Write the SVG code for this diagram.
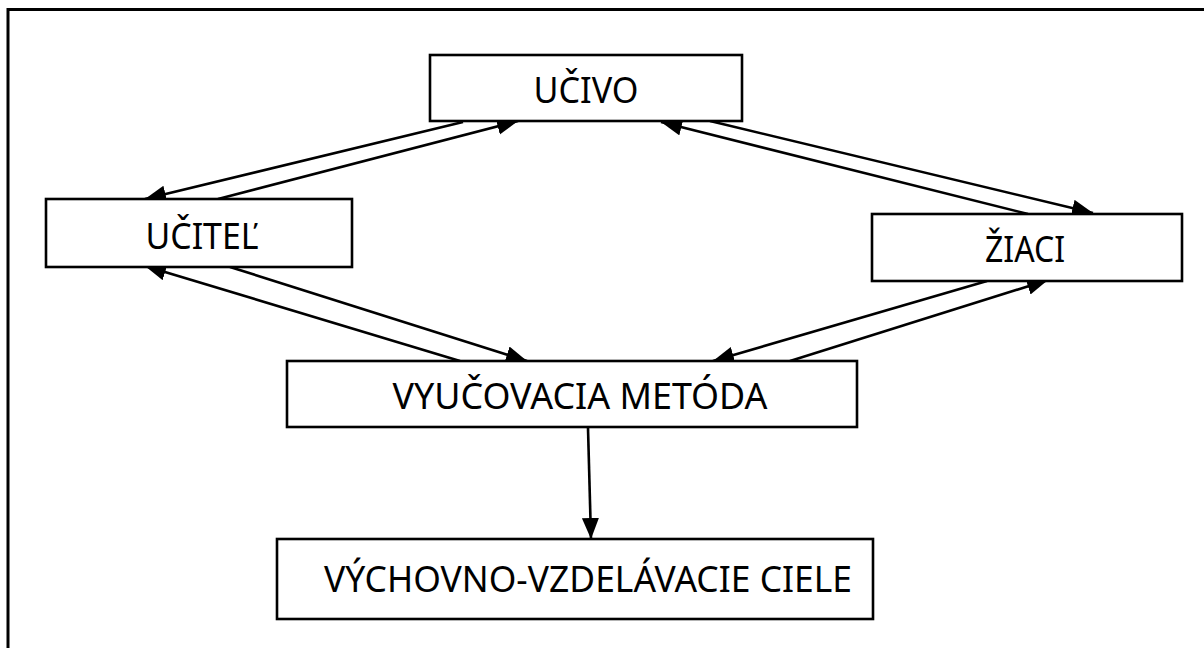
<svg xmlns="http://www.w3.org/2000/svg" width="1204" height="648" viewBox="0 0 1204 648">
  <style>
    .box { fill: #ffffff; stroke: #000000; stroke-width: 2.6; }
    .lbl { font-family: "Noto Sans", "Open Sans", "DejaVu Sans", sans-serif; font-size: 36px; fill: #000000; text-anchor: middle; }
    .con { stroke: #000000; stroke-width: 2.6; fill: none; marker-end: url(#arr); }
  </style>
  <defs>
    <marker id="arr" markerUnits="userSpaceOnUse" markerWidth="22" markerHeight="18" refX="21" refY="8.5" orient="auto">
      <path d="M0,0 L21,8.5 L0,17 z" fill="#000000"/>
    </marker>
  </defs>
  <rect width="1204" height="648" fill="#ffffff"/>
  <rect id="frame" x="8" y="9.5" width="1300" height="700" fill="none" stroke="#000000" stroke-width="3"/>

  <g id="connectors">
    <line class="con" x1="463" y1="122" x2="145" y2="199"/>
    <line class="con" x1="218" y1="199" x2="518" y2="121"/>
    <line class="con" x1="710" y1="121" x2="1093" y2="213"/>
    <line class="con" x1="1028" y1="214" x2="661" y2="122"/>
    <line class="con" x1="230" y1="267" x2="527" y2="361"/>
    <line class="con" x1="460" y1="361" x2="145" y2="266"/>
    <line class="con" x1="790" y1="361" x2="1048" y2="280"/>
    <line class="con" x1="987" y1="281" x2="713" y2="361"/>
    <line class="con" x1="588" y1="428" x2="591" y2="539"/>
  </g>

  <g id="ucivo">
    <rect class="box" x="430" y="55" width="312" height="66"/>
    <text class="lbl" x="586" y="103" textLength="105" lengthAdjust="spacingAndGlyphs">UČIVO</text>
  </g>
  <g id="ucitel">
    <rect class="box" x="46" y="199" width="306" height="68"/>
    <text class="lbl" x="202" y="249" textLength="113" lengthAdjust="spacingAndGlyphs">UČITEĽ</text>
  </g>
  <g id="ziaci">
    <rect class="box" x="872" y="214" width="310" height="67"/>
    <text class="lbl" x="1025" y="262" textLength="80" lengthAdjust="spacingAndGlyphs">ŽIACI</text>
  </g>
  <g id="metoda">
    <rect class="box" x="287" y="361" width="570" height="66"/>
    <text class="lbl" x="580" y="409" textLength="375" lengthAdjust="spacingAndGlyphs">VYUČOVACIA METÓDA</text>
  </g>
  <g id="ciele">
    <rect class="box" x="277" y="539" width="596" height="80"/>
    <text class="lbl" x="588" y="592" textLength="528" lengthAdjust="spacingAndGlyphs">VÝCHOVNO-VZDELÁVACIE CIELE</text>
  </g>
</svg>
